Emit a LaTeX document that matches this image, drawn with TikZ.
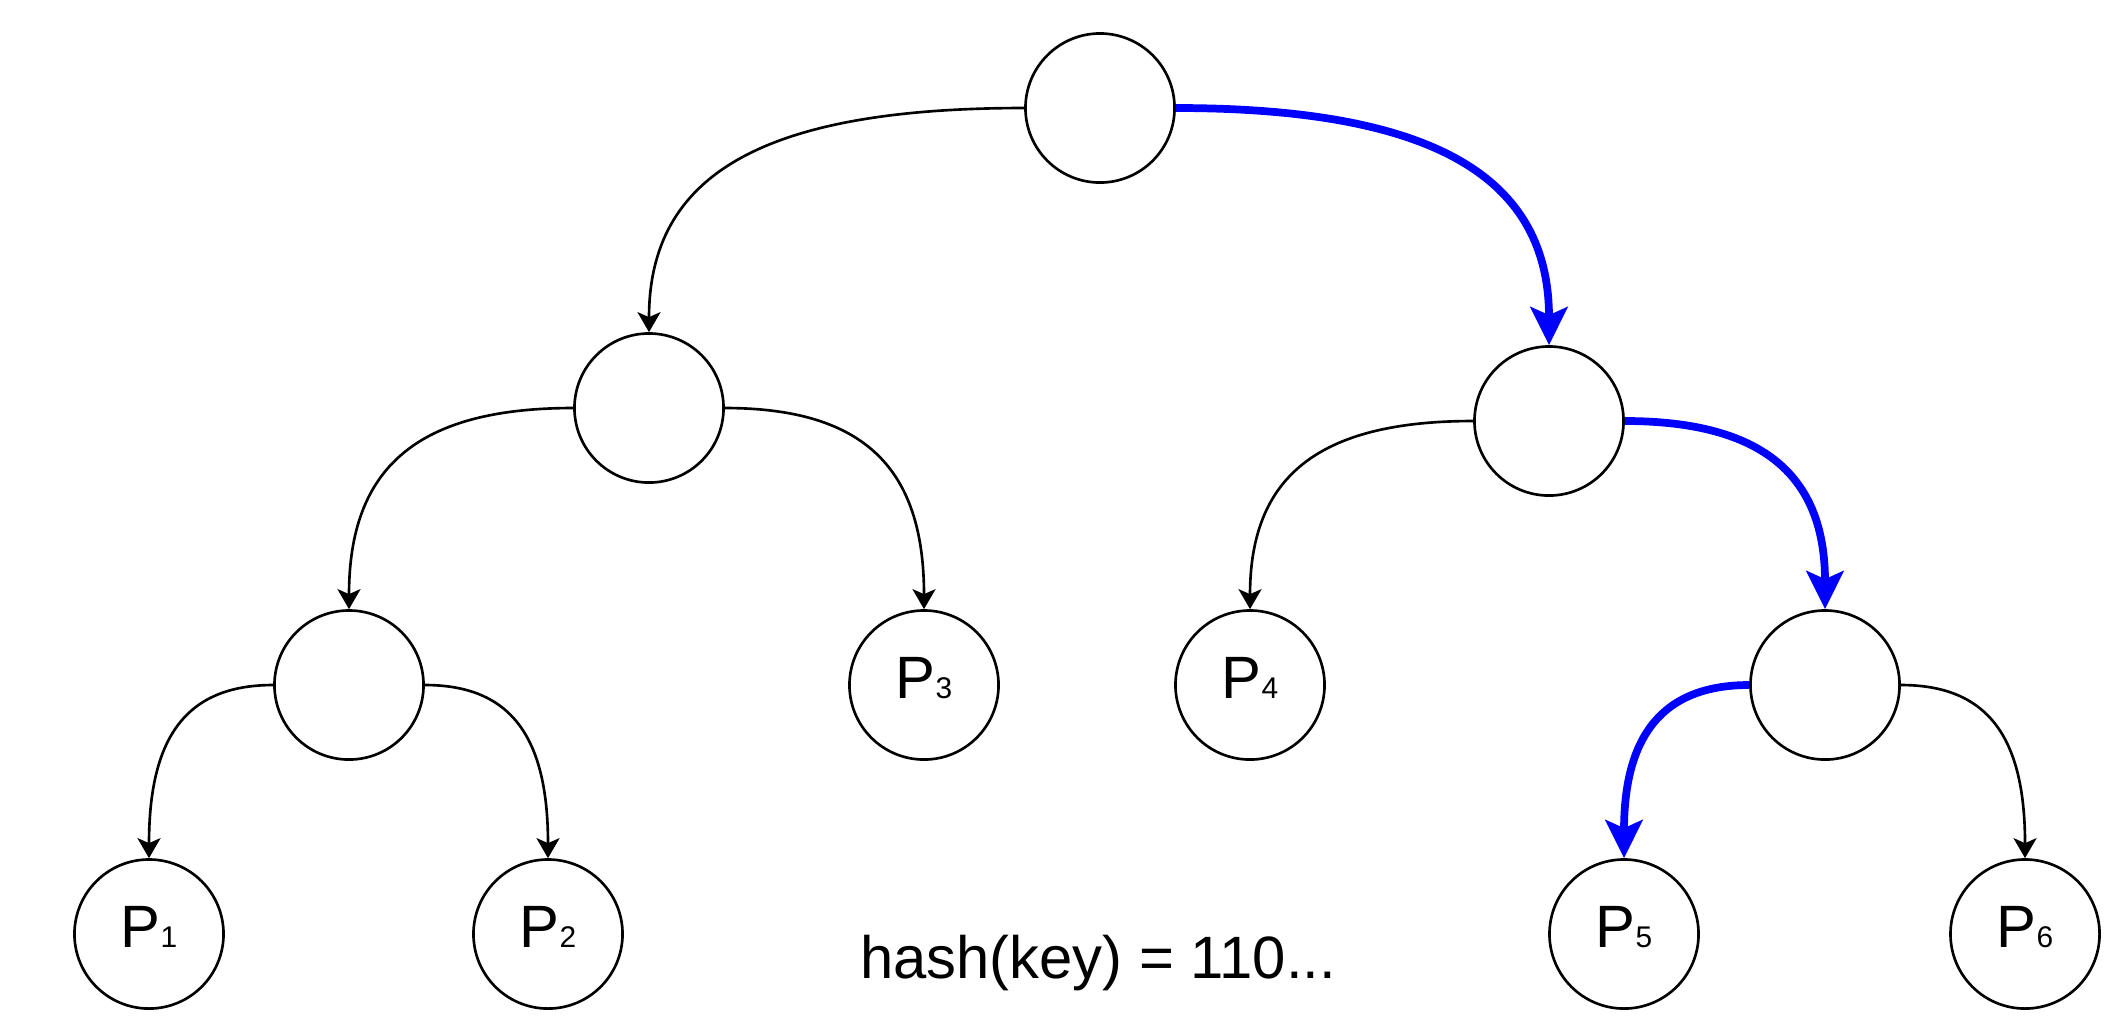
\documentclass[tikz,border=0pt]{standalone}
\usepackage{fontspec}
\setmainfont{Liberation Sans}
\usepackage{tikz}
\usetikzlibrary{arrows.meta,calc}

\newcommand{\pleaf}[1]{P{\fontsize{8.5}{10}\selectfont #1}}

\begin{document}
\begin{tikzpicture}[
  x=0.01cm, y=-0.01cm,
  every node/.style={font=\fontsize{17}{20}\selectfont},
  bucket/.style={circle, draw, line width=0.75pt, minimum size=1.49cm, inner sep=0pt},
  leaf/.style={bucket, text depth=1.5mm},
  branch/.style={line width=0.75pt, -{Stealth[length=2mm, width=2.3mm, inset=0.5mm]},
    to path={.. controls ($(\tikztostart)!0.7!(\tikztostart -| \tikztotarget)$)
      and ($(\tikztotarget)!0.7!(\tikztostart -| \tikztotarget)$) .. (\tikztotarget)}},
  chosen/.style={branch, blue, line width=2.2pt, -{Stealth[length=3.8mm, width=3.7mm, inset=0.8mm]}}
]
\useasboundingbox (0,0) rectangle (2110,1032);

% inner nodes
\node[bucket] (r) at (1100,108) {};
\node[bucket] (a) at (649,408) {};
\node[bucket] (b) at (1549,421) {};
\node[bucket] (aa) at (349,685) {};
\node[bucket] (bb) at (1825,685) {};

% partitions
\node[leaf] (p3) at (924,685) {\pleaf{3}};
\node[leaf] (p4) at (1250,685) {\pleaf{4}};
\node[leaf] (p1) at (149,934) {\pleaf{1}};
\node[leaf] (p2) at (548,934) {\pleaf{2}};
\node[leaf] (p5) at (1624,934) {\pleaf{5}};
\node[leaf] (p6) at (2025,934) {\pleaf{6}};

\node[anchor=base] (hash) at (1098,978) {hash(key) = 110...};

\draw[branch] (r.west) to (a.north);
\draw[chosen] (r.east) to (b.north);
\draw[branch] (a.west) to (aa.north);
\draw[branch] (a.east) to (p3.north);
\draw[branch] (b.west) to (p4.north);
\draw[chosen] (b.east) to (bb.north);
\draw[branch] (aa.west) to (p1.north);
\draw[branch] (aa.east) to (p2.north);
\draw[chosen] (bb.west) to (p5.north);
\draw[branch] (bb.east) to (p6.north);
\end{tikzpicture}
\end{document}
